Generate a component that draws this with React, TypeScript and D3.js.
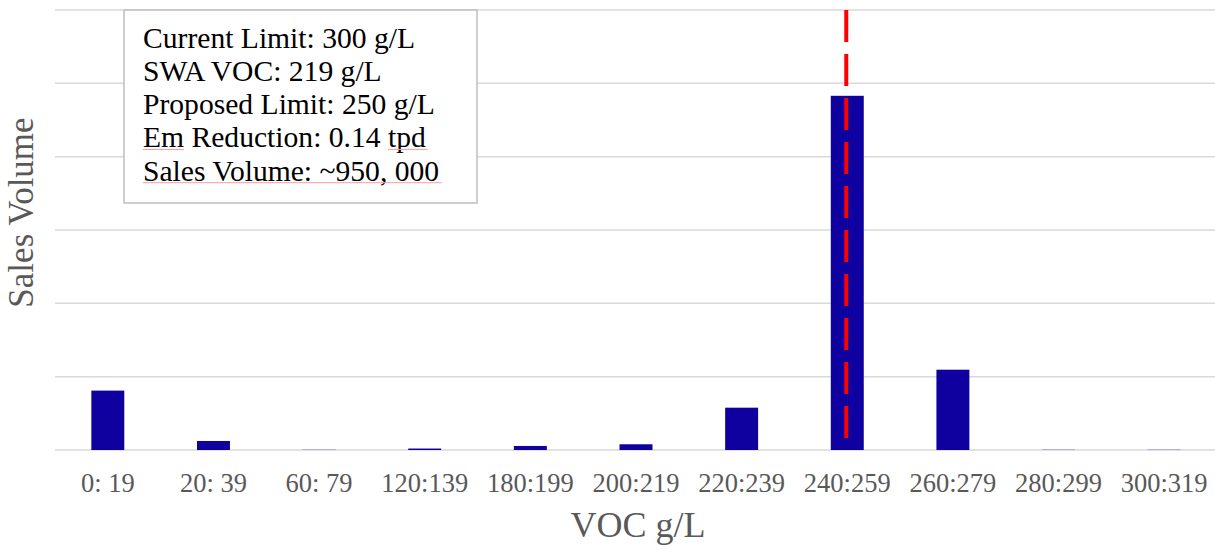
import React from "react";
import * as d3 from "d3";

const categories = ["0: 19", "20: 39", "60: 79", "120:139", "180:199", "200:219", "220:239", "240:259", "260:279", "280:299", "300:319"];
const salesValues = [81000, 12300, 300, 2000, 5500, 7800, 57700, 483000, 109500, 300, 300];
const yTicks = [0, 100000, 200000, 300000, 400000, 500000, 600000];
const noteLines = [
  "Current Limit: 300 g/L",
  "SWA VOC: 219 g/L",
  "Proposed Limit: 250 g/L",
  "Em Reduction: 0.14 tpd",
  "Sales Volume: ~950, 000",
];
const limitCategory = "240:259";

const W = 1215;
const H = 555;
const SERIF = "'Liberation Serif', 'Times New Roman', serif";

function measure(text: string, size: number): number {
  if (typeof document === "undefined") return text.length * size * 0.45;
  const c = document.createElement("canvas");
  const ctx = c.getContext("2d");
  if (!ctx) return text.length * size * 0.45;
  ctx.font = `${size}px ${SERIF}`;
  return ctx.measureText(text).width;
}

export default function App() {
  const left = 55;
  const right = 1217;
  const top = 10;
  const bottom = 450;

  const x = d3.scaleBand<string>().domain(categories).range([left, right]).paddingInner(0.688).paddingOuter(0.344);
  const y = d3.scaleLinear().domain([0, 600000]).range([bottom, top]);

  const boxX = 124, boxY = 10, boxW = 353, boxH = 193;
  const textX = 143;
  const firstBase = 47.7;
  const lineGap = 33.25;
  const noteSize = 29.6;

  const emW = measure("Em", noteSize);
  const line4W = measure(noteLines[3], noteSize);
  const tpdW = measure("tpd", noteSize);
  const line5W = measure(noteLines[4], noteSize);

  const limitX = (x(limitCategory) as number) + x.bandwidth() / 2 - 1;

  return (
    <svg width={W} height={H} style={{ position: "absolute", left: 0, top: 0, background: "#fff" }}>
      {yTicks.map((t) => (
        <line key={t} x1={left} x2={right} y1={y(t)} y2={y(t)} stroke="#d9d9d9" strokeWidth={1.5} />
      ))}
      {categories.map((c, i) => (
        <rect
          key={c}
          x={x(c)}
          y={y(salesValues[i])}
          width={x.bandwidth()}
          height={Math.max(0, bottom - y(salesValues[i]))}
          fill="#0f00a0"
        />
      ))}
      <line x1={limitX} x2={limitX} y1={top} y2={bottom - 10} stroke="#ff0000" strokeWidth={4} strokeDasharray="32 12" />
      {categories.map((c) => (
        <text
          key={c}
          x={(x(c) as number) + x.bandwidth() / 2}
          y={491.5}
          textAnchor="middle"
          fontFamily={SERIF}
          fontSize={26.5}
          fill="#595959"
        >
          {c}
        </text>
      ))}
      <text x={638} y={537} textAnchor="middle" fontFamily={SERIF} fontSize={36} fill="#595959">
        VOC g/L
      </text>
      <text
        transform={`translate(33,212.5) rotate(-90)`}
        textAnchor="middle"
        fontFamily={SERIF}
        fontSize={35}
        fill="#595959"
      >
        Sales Volume
      </text>
      <rect x={boxX} y={boxY} width={boxW} height={boxH} fill="#fff" stroke="#bfbfbf" strokeWidth={1.5} />
      {noteLines.map((l, i) => (
        <text key={l} x={textX} y={firstBase + i * lineGap} fontFamily={SERIF} fontSize={noteSize} fill="#000">
          {l}
        </text>
      ))}
      <line x1={textX} x2={textX + emW} y1={firstBase + 3 * lineGap + 2} y2={firstBase + 3 * lineGap + 2} stroke="#ff9a9a" strokeWidth={1} />
      <line x1={textX + line4W - tpdW} x2={textX + line4W + 2} y1={firstBase + 3 * lineGap + 2} y2={firstBase + 3 * lineGap + 2} stroke="#ff9a9a" strokeWidth={1} />
      <line x1={textX} x2={textX + line5W + 2} y1={firstBase + 4 * lineGap + 2} y2={firstBase + 4 * lineGap + 2} stroke="#ff9a9a" strokeWidth={1} />
    </svg>
  );
}
